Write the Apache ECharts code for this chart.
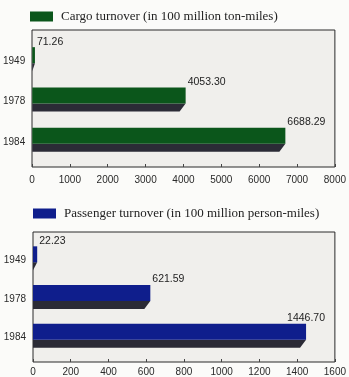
<!DOCTYPE html>
<html>
<head>
<meta charset="utf-8">
<script src="https://cdn.jsdelivr.net/npm/echarts@6/dist/echarts.min.js"></script>
<style>
  html, body { margin: 0; padding: 0; background: #fbfbf9; }
  #chart { width: 349px; height: 377px; }
</style>
</head>
<body>
<div id="chart"></div>
<script>
// data
const years = ['1949', '1978', '1984'];
const cargoName = 'Cargo turnover (in 100 million ton-miles)';
const cargoValues = [71.26, 4053.30, 6688.29];
const passengerName = 'Passenger turnover (in 100 million person-miles)';
const passengerValues = [22.23, 621.59, 1446.70];
const cargoAxis = { min: 0, max: 8000, interval: 1000 };
const passengerAxis = { min: 0, max: 1600, interval: 200 };

const green = '#0b561b';
const blue = '#0f1e8c';
const shade = '#2b2b36';
const sans = 'Liberation Sans';
const serif = 'Liberation Serif';

// flat bar with a dark "3d" strip underneath + value label at the end
function barRender(fill) {
  return function (params, api) {
    const cat = api.value(0);
    const v = api.value(1);
    const p0 = api.coord([0, cat]);
    const p1 = api.coord([v, cat]);
    const x0 = p0[0], xe = p1[0], cy = p0[1];
    const gridRight = params.coordSys.x + params.coordSys.width;
    // label sits after the bar end, pulled back inside the frame if it would run over
    const overflow = xe + 44 > gridRight;
    return {
      type: 'group',
      children: [
        {
          type: 'polygon',
          shape: { points: [[x0, cy + 2], [xe, cy + 2], [Math.max(x0, xe - 6), cy + 10], [x0, cy + 10]] },
          style: { fill: shade }
        },
        {
          type: 'rect',
          shape: { x: x0, y: cy - 14, width: xe - x0, height: 16 },
          style: { fill: fill }
        },
        {
          type: 'text',
          style: {
            text: v.toFixed(2),
            x: overflow ? gridRight - 10 : xe + 2,
            y: cy - 14,
            align: overflow ? 'right' : 'left',
            verticalAlign: 'bottom', fill: '#222',
            font: '10.5px "' + sans + '"'
          }
        }
      ]
    };
  };
}

function frameGrid(pos) {
  return Object.assign({
    show: true, backgroundColor: '#f0efec',
    borderColor: '#2a2a2a', borderWidth: 1
  }, pos);
}

function shownX(gridIndex, ax, margin) {
  return {
    type: 'value', gridIndex: gridIndex,
    min: ax.min, max: ax.max, interval: ax.interval,
    splitLine: { show: false },
    axisLine: { show: false },
    axisTick: { show: true, inside: true, length: 3, lineStyle: { color: '#444' } },
    axisLabel: {
      color: '#2a2a2a', fontFamily: sans, fontSize: 10, margin: margin,
      formatter: function (v) { return String(v); }
    }
  };
}

function hiddenX(gridIndex, ax) {
  return { type: 'value', gridIndex: gridIndex, min: ax.min, max: ax.max, show: false };
}

function catY(gridIndex) {
  return {
    type: 'category', gridIndex: gridIndex, data: years, inverse: true,
    axisLine: { show: false }, axisTick: { show: false },
    axisLabel: { color: '#2a2a2a', fontFamily: sans, fontSize: 10, margin: 7 }
  };
}

function legendFor(name, color, top, left) {
  return {
    top: top, left: left, icon: 'rect', itemWidth: 23, itemHeight: 10,
    selectedMode: false,
    data: [{ name: name, itemStyle: { color: color } }],
    textStyle: { fontFamily: serif, fontSize: 13, color: '#222', padding: [0, 0, 0, 3] }
  };
}

const chart = echarts.init(document.getElementById('chart'), null, { renderer: 'canvas' });

chart.setOption({
  backgroundColor: '#fbfbf9',
  animation: false,
  legend: [
    legendFor(cargoName, green, 5, 25),
    legendFor(passengerName, blue, 202, 28)
  ],
  grid: [
    frameGrid({ left: 32, top: 30, right: 14, bottom: 210 }),
    { left: 32, top: 41, right: 14, bottom: 215 },
    frameGrid({ left: 33, top: 232, right: 14, bottom: 14 }),
    { left: 33, top: 241, right: 14, bottom: 20 }
  ],
  xAxis: [
    shownX(0, cargoAxis, 8),
    hiddenX(1, cargoAxis),
    shownX(2, passengerAxis, 5),
    hiddenX(3, passengerAxis)
  ],
  yAxis: [
    { type: 'value', gridIndex: 0, show: false },
    catY(1),
    { type: 'value', gridIndex: 2, show: false },
    catY(3)
  ],
  series: [
    {
      name: cargoName, type: 'custom', xAxisIndex: 1, yAxisIndex: 1,
      itemStyle: { color: green },
      renderItem: barRender(green),
      encode: { x: 1, y: 0 },
      data: cargoValues.map((v, i) => [i, v])
    },
    {
      name: passengerName, type: 'custom', xAxisIndex: 3, yAxisIndex: 3,
      itemStyle: { color: blue },
      renderItem: barRender(blue),
      encode: { x: 1, y: 0 },
      data: passengerValues.map((v, i) => [i, v])
    }
  ]
});
</script>
</body>
</html>
